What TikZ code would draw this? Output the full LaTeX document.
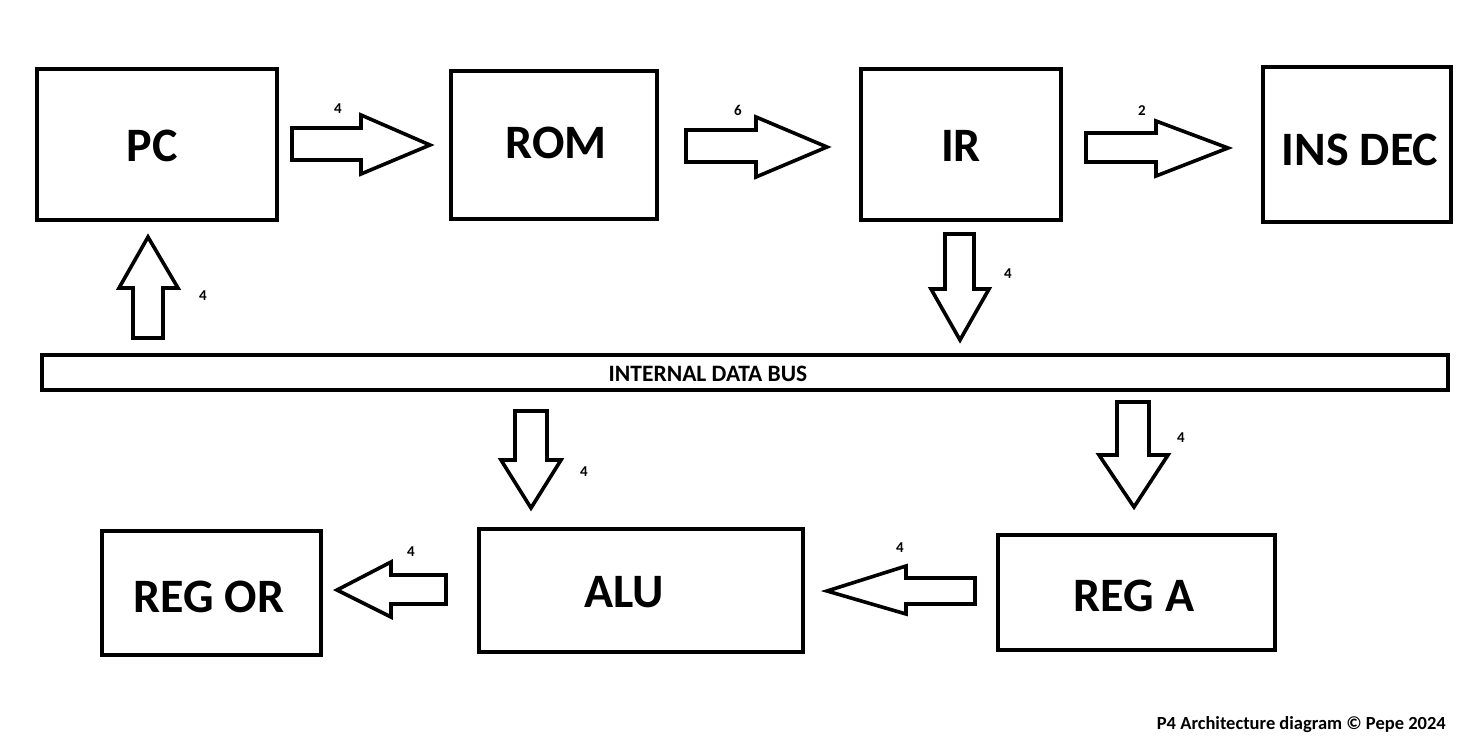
\documentclass[tikz,border=0pt]{standalone}
\usepackage{fontspec}
\setmainfont{Carlito}
\begin{document}
\begin{tikzpicture}[x=1pt,y=-1pt,
  blk/.style={draw=black, line width=3.6pt, inner sep=0pt},
  big/.style={font=\fontsize{48}{56}\selectfont\bfseries, inner sep=0pt},
  barrow/.style={draw=black, line width=3.6pt, line join=miter, fill=white},
  lbl/.style={font=\fontsize{15}{18}\selectfont\bfseries, inner sep=0pt}]
\useasboundingbox[fill=white] (0,0) rectangle (1475,747);
% boxes
\node[blk, minimum width=240pt, minimum height=151pt] (pc) at (157,144.5) {};
\node[big] (pct) at (152,146) {PC};
\node[blk, minimum width=206pt, minimum height=148pt] (rom) at (554,145) {};
\node[big] (romt) at (556,143) {ROM};
\node[blk, minimum width=200pt, minimum height=151pt] (ir) at (961,144.5) {};
\node[big] (irt) at (961,146) {IR};
\node[blk, minimum width=188pt, minimum height=155pt] (ins) at (1357,144.5) {};
\node[big] (inst) at (1360,150) {INS DEC};
\node[blk, minimum width=1406pt, minimum height=35pt] (bus) at (745,372.5) {};
\node[font=\fontsize{23.5}{27}\selectfont\bfseries, inner sep=0pt] (bust) at (708,374) {INTERNAL DATA BUS};
\node[blk, minimum width=219pt, minimum height=124pt] (regor) at (211.5,593) {};
\node[big] (regort) at (209,597) {REG OR};
\node[blk, minimum width=324pt, minimum height=123pt] (alu) at (641,590.5) {};
\node[big] (alut) at (624,592) {ALU};
\node[blk, minimum width=277pt, minimum height=115pt] (rega) at (1136.5,592.5) {};
\node[big] (regat) at (1134,596) {REG A};
% block arrows
% PC -> ROM
\draw[barrow] (292,128) -- (361,128) -- (361,115) -- (430,145) -- (361,174) -- (361,160) -- (292,160) -- cycle;
\node[lbl] (l1) at (338,109) {4};
% ROM -> IR
\draw[barrow] (686,130) -- (756,130) -- (756,117) -- (827,147) -- (756,177) -- (756,162) -- (686,162) -- cycle;
\node[lbl] (l2) at (738,110) {6};
% IR -> INS DEC
\draw[barrow] (1086,133) -- (1156,133) -- (1156,121) -- (1228,148) -- (1156,176) -- (1156,162) -- (1086,162) -- cycle;
\node[lbl] (l3) at (1142,111) {2};
% Bus -> PC (up)
\draw[barrow] (133,338) -- (133,288) -- (119,288) -- (148,237) -- (178,288) -- (163,288) -- (163,338) -- cycle;
\node[lbl] (l4) at (203,296) {4};
% IR -> Bus (down)
\draw[barrow] (945,234) -- (945,289) -- (931,289) -- (960,340) -- (989,289) -- (974,289) -- (974,234) -- cycle;
\node[lbl] (l5) at (1008,274) {4};
% Bus -> ALU (down)
\draw[barrow] (515,411) -- (515,460) -- (501,460) -- (531,508) -- (561,460) -- (547,460) -- (547,411) -- cycle;
\node[lbl] (l6) at (584,472) {4};
% Bus -> REG A (down)
\draw[barrow] (1117,402) -- (1117,455) -- (1099,455) -- (1134,507) -- (1168,455) -- (1149,455) -- (1149,402) -- cycle;
\node[lbl] (l7) at (1181,438) {4};
% REG A -> ALU (left)
\draw[barrow] (975,578) -- (906,578) -- (906,566) -- (827,591) -- (906,614) -- (906,604) -- (975,604) -- cycle;
\node[lbl] (l8) at (900,548) {4};
% ALU -> REG OR (left)
\draw[barrow] (446,575) -- (391,575) -- (391,562) -- (337,590) -- (391,617) -- (391,604) -- (446,604) -- cycle;
\node[lbl] (l9) at (411,552) {4};
% footer
\node[font=\fontsize{18.5}{22}\selectfont\bfseries, anchor=east, inner sep=0pt] (foot) at (1446,725) {P4 Architecture diagram © Pepe 2024};
\end{tikzpicture}
\end{document}
